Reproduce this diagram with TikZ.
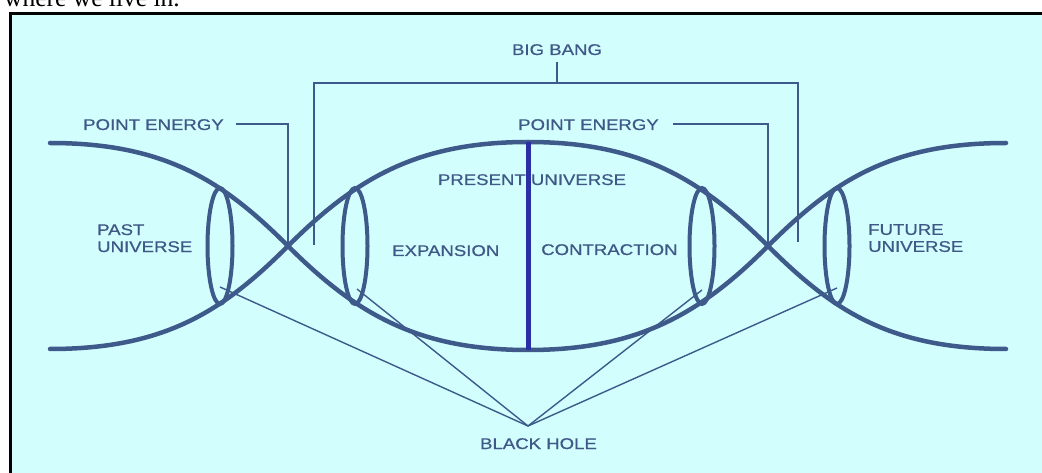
\documentclass[tikz,border=0pt]{standalone}
\usepackage{fontspec}
\setmainfont{Liberation Serif}
\newfontfamily\lblfont[FakeStretch=1.2,FakeBold=0.6]{Liberation Sans}
\usetikzlibrary{shapes.geometric}
\definecolor{bg}{HTML}{D2FEFE}
\definecolor{ink}{HTML}{3E5A8A}
\definecolor{txt}{HTML}{3F5886}
\definecolor{core}{HTML}{2B2FA6}
\begin{document}
\begin{tikzpicture}[x=1pt,y=-1pt,
  curve/.style={ink, line width=4.5pt, line cap=round},
  ring/.style={draw=ink, line width=4pt, ellipse, minimum width=25pt, minimum height=116pt, inner sep=0pt},
  link/.style={ink, line width=1.8pt},
  ray/.style={ink, line width=1.4pt},
  lbl/.style={text=txt, font={\lblfont\fontsize{15.5}{17}\selectfont}, inner sep=0pt}]
\clip (0,0) rectangle (1042,473);
\fill[white] (0,0) rectangle (1042,473);
\fill[bg] (10,13.5) rectangle (1042,473);
\draw[line width=3pt] (10,480) -- (10,13.5) -- (1050,13.5);
\node[anchor=base west, inner sep=0pt, font=\fontsize{25.5}{28}\selectfont] (cap) at (4,6.7) {where we live in.};

% crossing points
\coordinate (xl) at (288,246);
\coordinate (xr) at (768,246);

% the two waves
\draw[curve] (50,143) .. controls (165,143) and (223,181) .. (xl)
  .. controls (356,314) and (418,350) .. (528,350)
  .. controls (638,350) and (700,314) .. (xr)
  .. controls (833,181) and (891,143) .. (1006,143);
\draw[curve] (50,349) .. controls (165,349) and (223,311) .. (xl)
  .. controls (356,178) and (418,142) .. (528,142)
  .. controls (638,142) and (700,178) .. (xr)
  .. controls (833,311) and (891,349) .. (1006,349);

% rings
\node[ring] (r1) at (220,246) {};
\node[ring] (r2) at (355,246) {};
\node[ring] (r3) at (702,246) {};
\node[ring] (r4) at (837,246) {};

% labels
\node[lbl, anchor=base] (bb) at (557,55) {BIG BANG};
\node[lbl, anchor=base west] (pe1) at (83,130) {POINT ENERGY};
\node[lbl, anchor=base west] (pe2) at (518,130) {POINT ENERGY};
\node[lbl, anchor=base] (pu) at (532,185) {PRESENT UNIVERSE};
\node[lbl, anchor=base west] (ex) at (392,256) {EXPANSION};
\node[lbl, anchor=base west] (co) at (541,255) {CONTRACTION};
\node[lbl, anchor=north west, align=left] (past) at (97,224) {PAST\\UNIVERSE};
\node[lbl, anchor=north west, align=left] (fut) at (868,224) {FUTURE\\UNIVERSE};
\node[lbl, anchor=base] (bh) at (538.5,449) {BLACK HOLE};

% present universe line
\draw[core, line width=5pt] (528,142) -- (528,350);

% big bang bracket
\coordinate (bbt) at (557,62);
\coordinate (bbj) at (557,83);
\coordinate (bbl) at (314,245);
\coordinate (bbr) at (798,242);
\draw[link] (bbl) |- (798,83) -- (bbr);
\draw[link] (bbt) -- (bbj);

% point energy leaders
\coordinate (p1) at (236,124);
\coordinate (p2) at (673,124);
\draw[link] (p1) -| (xl);
\draw[link] (p2) -| (xr);

% black hole rays
\coordinate (bhp) at (528,426);
\coordinate (h1) at (220,287);
\coordinate (h2) at (357,289);
\coordinate (h3) at (702,290);
\coordinate (h4) at (837,288);
\foreach \h in {h1,h2,h3,h4} \draw[ray] (\h) -- (bhp);
\end{tikzpicture}
\end{document}
